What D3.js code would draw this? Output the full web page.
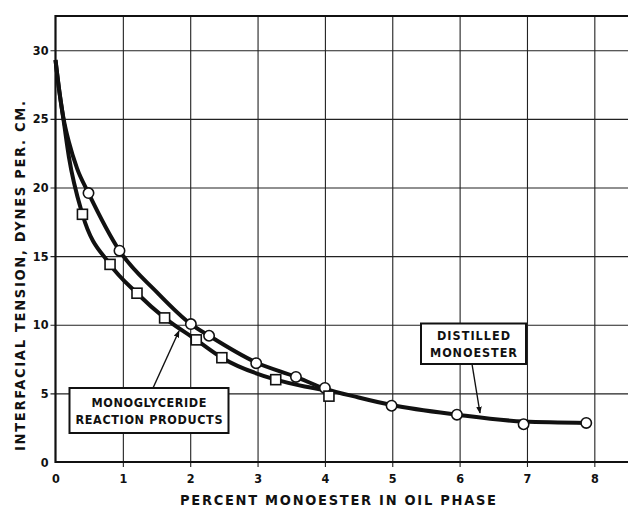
<!DOCTYPE html>
<html>

<head>
    <meta charset="utf-8" />
    <script src="https://d3js.org/d3.v7.min.js"></script>
    <style>
        body { margin: 0; background: #fff; }
        text { font-family: "DejaVu Sans Condensed", "DejaVu Sans", sans-serif; font-weight: bold; fill: #111; }
        .grid line { stroke: #222; stroke-width: 1.1px; }
        .grid path { display: none; }
        .ticks path { display: none; }
        .ticks text { font-size: 12.5px; }
    </style>
</head>

<body>
    <svg id="chart" width="628" height="508"></svg>

    <script>
        // values
        const distilledX = [0.49, 0.95, 2.01, 2.28, 2.98, 3.57, 4.00, 4.99, 5.96, 6.95, 7.88];
        const distilledY = [19.6, 15.4, 10.05, 9.2, 7.2, 6.2, 5.4, 4.1, 3.45, 2.75, 2.85];
        const monoX = [0.40, 0.81, 1.21, 1.62, 2.09, 2.47, 3.27, 4.06];
        const monoY = [18.05, 14.4, 12.3, 10.5, 8.9, 7.6, 6.0, 4.8];

        // hand-drawn curves (approximate, they don't pass exactly through every point)
        const distilledCurveX = [0, 0.06, 0.12, 0.2, 0.32, 0.49, 0.95, 1.5, 2.01, 2.28, 2.98, 3.57, 4.00, 4.5, 4.99, 5.96, 6.95, 7.88];
        const distilledCurveY = [29.3, 26.9, 25.0, 23.3, 21.4, 19.6, 15.4, 12.4, 10.05, 9.2, 7.25, 6.2, 5.35, 4.7, 4.15, 3.45, 2.95, 2.85];
        const monoCurveX = [0, 0.06, 0.12, 0.2, 0.40, 0.81, 1.21, 1.62, 2.09, 2.47, 3.27, 3.7, 4.05];
        const monoCurveY = [29.3, 26.9, 24.9, 22.2, 18.05, 14.4, 12.3, 10.5, 8.9, 7.6, 6.0, 5.5, 5.2];

        const xTicks = [0, 1, 2, 3, 4, 5, 6, 7, 8];
        const yTicks = [0, 5, 10, 15, 20, 25, 30];

        const xTitle = "PERCENT MONOESTER IN OIL PHASE";
        const yTitle = "INTERFACIAL TENSION, DYNES PER. CM.";
        const monoLabel = ["MONOGLYCERIDE", "REACTION PRODUCTS"];
        const distilledLabel = ["DISTILLED", "MONOESTER"];

        const plotL = 55.5, plotR = 628, plotT = 16, plotB = 462;

        const x = d3.scaleLinear().domain([0, 8.5]).range([plotL, plotR]);
        const y = d3.scaleLinear().domain([0, 32.5]).range([plotB, plotT]);

        const svg = d3.select("#chart");

        svg.append("defs").append("marker")
            .attr("id", "arrow")
            .attr("viewBox", "0 0 10 10")
            .attr("refX", 9).attr("refY", 5)
            .attr("markerWidth", 7).attr("markerHeight", 7)
            .attr("markerUnits", "userSpaceOnUse")
            .attr("orient", "auto")
            .append("path").attr("d", "M0,1L10,5L0,9z").attr("fill", "#111");

        // grid lines, slightly overshooting the axes like the original
        svg.append("g").attr("class", "grid")
            .attr("transform", `translate(0,${plotB + 5})`)
            .call(d3.axisTop(x).tickValues(xTicks.slice(1)).tickSize(plotB + 5 - plotT).tickFormat(""));
        svg.append("g").attr("class", "grid")
            .attr("transform", `translate(${plotL - 5},0)`)
            .call(d3.axisRight(y).tickValues(yTicks.slice(1)).tickSize(plotR - plotL + 5).tickFormat(""));

        // frame
        svg.append("path")
            .attr("d", `M${plotR},${plotT}H${plotL}V${plotB}H${plotR}`)
            .attr("fill", "none").attr("stroke", "#111").attr("stroke-width", 2.2);

        // tick labels
        svg.append("g").attr("class", "ticks")
            .attr("transform", `translate(0,${plotB})`)
            .call(d3.axisBottom(x).tickValues(xTicks).tickSize(0).tickPadding(12).tickFormat(d3.format("d")));
        svg.append("g").attr("class", "ticks")
            .attr("transform", `translate(${plotL},0)`)
            .call(d3.axisLeft(y).tickValues(yTicks).tickSize(0).tickPadding(7).tickFormat(d3.format("d")));

        // axis titles
        svg.append("text")
            .attr("x", 338).attr("y", 505)
            .attr("text-anchor", "middle")
            .attr("textLength", 316).attr("lengthAdjust", "spacing")
            .style("font-size", "14.5px")
            .text(xTitle);
        svg.append("text")
            .attr("transform", `translate(25,276) rotate(-90)`)
            .attr("text-anchor", "middle")
            .attr("textLength", 350).attr("lengthAdjust", "spacing")
            .style("font-size", "14.5px")
            .text(yTitle);

        // curves
        const line = d3.line().x(d => x(d[0])).y(d => y(d[1])).curve(d3.curveMonotoneX);
        const curves = [
            d3.zip(distilledCurveX, distilledCurveY),
            d3.zip(monoCurveX, monoCurveY)
        ];
        svg.append("g").selectAll("path")
            .data(curves)
            .join("path")
            .attr("d", line)
            .attr("fill", "none")
            .attr("stroke", "#111")
            .attr("stroke-width", 4)
            .attr("stroke-linejoin", "round");

        // markers
        svg.append("g").selectAll("circle")
            .data(d3.zip(distilledX, distilledY))
            .join("circle")
            .attr("cx", d => x(d[0])).attr("cy", d => y(d[1]))
            .attr("r", 5.2)
            .attr("fill", "#fff").attr("stroke", "#111").attr("stroke-width", 1.6);
        const s = 10;
        svg.append("g").selectAll("rect")
            .data(d3.zip(monoX, monoY))
            .join("rect")
            .attr("x", d => x(d[0]) - s / 2).attr("y", d => y(d[1]) - s / 2)
            .attr("width", s).attr("height", s)
            .attr("fill", "#fff").attr("stroke", "#111").attr("stroke-width", 1.6);

        // label boxes with arrows
        function labelBox(lines, widths, x0, y0, w, h, ax0, ay0, ax1, ay1) {
            svg.append("line")
                .attr("x1", ax0).attr("y1", ay0).attr("x2", ax1).attr("y2", ay1)
                .attr("stroke", "#111").attr("stroke-width", 1.4)
                .attr("marker-end", "url(#arrow)");
            svg.append("rect")
                .attr("x", x0).attr("y", y0).attr("width", w).attr("height", h)
                .attr("fill", "#fff").attr("stroke", "#111").attr("stroke-width", 2);
            svg.append("g").selectAll("text")
                .data(lines)
                .join("text")
                .attr("x", x0 + w / 2)
                .attr("y", (d, i) => y0 + h / 2 - 3.5 + i * 17)
                .attr("text-anchor", "middle")
                .attr("textLength", (d, i) => widths[i]).attr("lengthAdjust", "spacing")
                .style("font-size", "12.5px")
                .text(d => d);
        }
        labelBox(monoLabel, [115, 147], 69.5, 388, 159, 45, 153, 388, 179, 331);
        labelBox(distilledLabel, [73, 87], 421, 323.5, 105, 40.5, 472, 364, 480, 413);
    </script>
</body>

</html>
